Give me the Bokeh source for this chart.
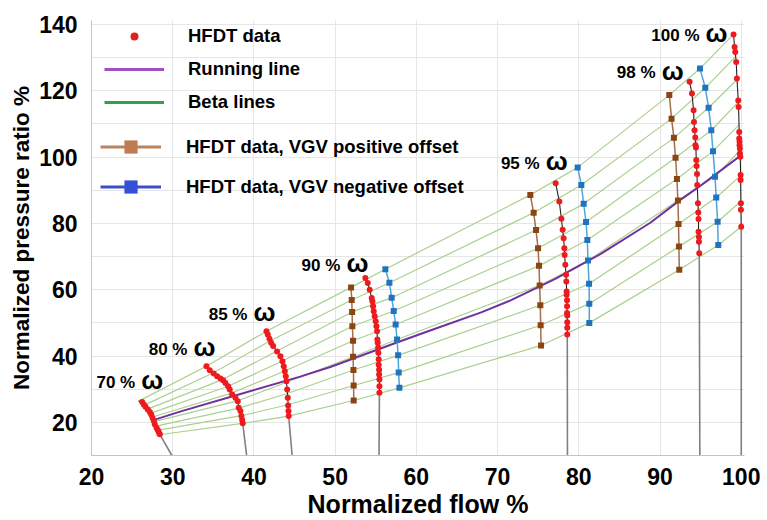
from bokeh.plotting import figure
from bokeh.models import (Range1d, SingleIntervalTicker, Legend, LegendItem,
                          ColumnDataSource, Title)
from bokeh.core.properties import value
from bokeh.embed import file_html
from bokeh.resources import INLINE

# ---------------- data ----------------
SPEED_LABELS = ["70 %", "80 %", "85 %", "90 %", "95 %", "98 %", "100 %"]

# HFDT data points along each speed line
R70_X = [26.24, 26.44, 26.65, 26.93, 27.18, 27.35, 27.51, 27.67, 27.79, 28.0, 28.16, 28.28, 28.41]
R70_Y = [26.1, 25.4, 24.7, 23.9, 23.1, 22.4, 21.4, 20.4, 19.4, 18.4, 17.7, 17.1, 16.4]
R80_X = [34.15, 34.56, 35.05, 35.47, 35.88, 36.21, 36.49, 36.82, 37.02, 37.32, 37.72, 38.01, 38.13, 38.34, 38.46, 38.55, 38.62]
R80_Y = [36.9, 35.7, 34.7, 33.9, 33.2, 32.7, 31.9, 30.9, 29.9, 28.4, 27.4, 26.4, 24.4, 23.4, 21.9, 20.7, 19.7]
R85_X = [41.54, 41.70, 41.91, 42.12, 42.36, 42.85, 43.26, 43.51, 43.67, 43.80, 43.92, 44.00, 44.09, 44.17, 44.21, 44.25, 44.28]
R85_Y = [47.5, 46.5, 45.2, 44.0, 43.0, 41.4, 39.9, 38.4, 36.9, 35.4, 33.9, 32.4, 29.9, 27.4, 25.1, 23.4, 21.9]
R90_X = [53.72, 54.01, 54.25, 54.50, 54.58, 54.67, 54.75, 54.87, 54.99, 55.08, 55.16, 55.20, 55.24, 55.29, 55.32, 55.36, 55.36, 55.41, 55.41, 55.45, 55.45, 55.45]
R90_Y = [63.5, 62.0, 60.0, 57.5, 56.5, 55.0, 53.5, 52.0, 50.5, 49.0, 47.5, 45.0, 44.0, 42.5, 41.0, 39.0, 37.4, 35.9, 34.4, 32.9, 30.9, 28.9]
R95_X = [77.15, 77.60, 77.85, 78.01, 78.13, 78.22, 78.25, 78.34, 78.43, 78.46, 78.50, 78.50, 78.55, 78.55, 78.55, 78.58, 78.58, 78.58, 78.58]
R95_Y = [92.1, 86.6, 81.4, 78.1, 75.5, 72.5, 70.5, 67.5, 64.5, 62.5, 59.5, 58.5, 56.8, 55.0, 53.0, 52.2, 50.2, 48.5, 46.5]
R98_X = [93.64, 93.93, 94.13, 94.18, 94.25, 94.34, 94.37, 94.42, 94.46, 94.50, 94.55, 94.58, 94.67, 94.71, 94.74, 94.74, 94.79, 94.79, 94.83]
R98_Y = [122.7, 119.2, 114.1, 110.6, 108.1, 105.9, 103.6, 102.9, 99.1, 97.3, 94.9, 91.6, 86.1, 83.3, 81.3, 77.5, 75.9, 74.5, 71.0]
R100_X = [99.05, 99.18, 99.26, 99.38, 99.47, 99.63, 99.67, 99.75, 99.75, 99.79, 99.79, 99.83, 99.83, 99.88, 99.92, 99.92, 99.96, 99.96, 100.0]
R100_Y = [137.0, 133.2, 131.7, 128.7, 123.7, 117.1, 115.1, 107.6, 105.6, 104.6, 103.6, 102.6, 101.1, 100.1, 94.6, 93.1, 86.1, 84.1, 79.0]

# lower end of each speed line (where it meets the flow axis)
END_X = [29.9, 39.1, 44.7, 55.4, 78.6, 94.9, 100.0]
END_Y = [10, 10, 10, 10, 10, 10, 10]

# beta-line points on the 70, 80, 85 and 100 % speed lines (top -> bottom)
BETA70_X = [25.8, 26.5, 26.9, 27.3, 27.5, 27.7, 27.8, 27.9, 27.9]
BETA70_Y = [26.4, 25.2, 24.0, 22.8, 21.6, 20.2, 18.8, 17.5, 16.1]
BETA80_X = [34.15, 34.96, 36.12, 36.83, 37.24, 37.98, 38.15, 38.45, 38.62]
BETA80_Y = [36.9, 34.9, 32.9, 30.9, 28.8, 26.5, 24.3, 22.0, 19.7]
BETA85_X = [41.54, 42.02, 42.84, 43.5, 43.8, 44.02, 44.13, 44.21, 44.28]
BETA85_Y = [47.5, 44.6, 41.5, 38.5, 35.5, 32.1, 28.7, 25.3, 21.9]
BETA100_X = [99.05, 99.3, 99.48, 99.64, 99.73, 99.83, 99.92, 99.96, 100.0]
BETA100_Y = [137.0, 130.3, 123.4, 116.6, 109.7, 102.0, 94.4, 86.7, 79.0]

# HFDT data, VGV positive offset (brown)
POS90_X = [51.96, 52.04, 52.09, 52.12, 52.20, 52.20, 52.25, 52.28, 52.28]
POS90_Y = [60.7, 56.9, 53.3, 49.0, 44.6, 39.8, 35.8, 31.1, 26.6]
POS95_X = [74.03, 74.44, 74.73, 74.98, 75.10, 75.18, 75.26, 75.30, 75.35]
POS95_Y = [88.6, 83.2, 78.0, 72.5, 67.2, 61.3, 55.3, 49.3, 43.2]
POS98_X = [91.14, 91.42, 91.71, 91.91, 92.08, 92.20, 92.28, 92.33, 92.37]
POS98_Y = [118.7, 111.6, 105.8, 99.8, 93.4, 86.9, 79.8, 73.0, 66.0]

# HFDT data, VGV negative offset (blue)
NEG90_X = [56.18, 56.68, 56.96, 57.21, 57.45, 57.62, 57.75, 57.82, 57.91]
NEG90_Y = [66.2, 62.1, 57.6, 53.6, 49.5, 45.0, 40.2, 35.0, 30.4]
NEG95_X = [79.86, 80.31, 80.60, 80.89, 81.05, 81.13, 81.26, 81.29, 81.29]
NEG95_Y = [96.9, 91.6, 85.9, 80.4, 75.0, 68.8, 61.8, 55.8, 50.0]
NEG98_X = [94.92, 95.57, 95.98, 96.31, 96.52, 96.77, 96.92, 97.09, 97.17]
NEG98_Y = [126.7, 120.9, 114.9, 108.1, 101.8, 94.1, 87.8, 80.5, 73.5]

# running line
RUN_X = [27.9, 31.0, 37.7, 45.7, 49.4, 57.6, 61.7, 67.9, 71.6, 77.1, 82.7, 88.8, 92.5, 94.6, 100.0]
RUN_Y = [20.9, 23.3, 28.1, 33.8, 36.7, 44.1, 47.7, 53.1, 56.8, 63.3, 70.8, 80.2, 87.1, 90.7, 100.6]

X_TITLE = "Normalized flow %"
Y_TITLE = "Normalized pressure ratio %"

# ---------------- layout / style constants ----------------
FONT = "Liberation Sans"
LABEL_DX = [21, 9, 9, 3, 12, -6, -6]       # px offset of the label's right edge
LABEL_DY = [-20, -17, -17, -13, -20, -9, 1]  # px offset of the label's centre

RED = "#ee1a1e"
GREEN_LINE = "#a9d18e"
PURPLE = "#7030a0"
BROWN_SQ = "#8b4513"
BROWN_LN = "#a0704a"
BLUE_SQ = "#1f74bd"
BLUE_LN = "#4ea5dc"

p = figure(width=767, height=520, output_backend="svg", toolbar_location=None,
           x_range=Range1d(20, 100.4), y_range=Range1d(10, 141.2),
           min_border_left=91, min_border_right=23, min_border_top=20,
           min_border_bottom=64)
p.outline_line_color = None
p.background_fill_color = "white"
p.border_fill_color = "white"

# axes & grid
p.xaxis.ticker = SingleIntervalTicker(interval=10, num_minor_ticks=0)
p.yaxis.ticker = SingleIntervalTicker(interval=20, num_minor_ticks=2)
for ax in (p.xaxis[0], p.yaxis[0]):
    ax.major_tick_line_color = None
    ax.minor_tick_line_color = None
    ax.axis_line_color = "#c4c4c4"
    ax.major_label_text_font = FONT
    ax.major_label_text_font_style = "bold"
    ax.major_label_text_font_size = "23px"
    ax.major_label_text_color = "black"
p.xaxis.major_label_standoff = 6
p.yaxis.major_label_standoff = 8
p.xaxis.axis_label = X_TITLE
p.xaxis.axis_label_standoff = 2
p.xaxis.axis_label_text_font = FONT
p.xaxis.axis_label_text_font_style = "bold"
p.xaxis.axis_label_text_font_size = "25px"
p.xaxis.axis_label_text_color = "black"
p.xgrid.grid_line_color = "#e6e6e6"
p.ygrid.grid_line_color = "#e6e6e6"
p.ygrid.minor_grid_line_color = "#e6e6e6"

# y-axis title as a side title
p.add_layout(Title(text=Y_TITLE, align="center", offset=0, standoff=5,
                   text_font=FONT, text_font_style="bold", text_font_size="22.5px",
                   text_color="black"), "left")

# beta lines
beta_xs, beta_ys = [], []
for i in range(9):
    beta_xs.append([BETA70_X[i], BETA80_X[i], BETA85_X[i], POS90_X[i], NEG90_X[i],
                    POS95_X[i], NEG95_X[i], POS98_X[i], NEG98_X[i], BETA100_X[i]])
    beta_ys.append([BETA70_Y[i], BETA80_Y[i], BETA85_Y[i], POS90_Y[i], NEG90_Y[i],
                    POS95_Y[i], NEG95_Y[i], POS98_Y[i], NEG98_Y[i], BETA100_Y[i]])
p.multi_line(xs=beta_xs, ys=beta_ys, line_color=GREEN_LINE, line_width=1.2)

# speed lines
speeds = [(R70_X, R70_Y), (R80_X, R80_Y), (R85_X, R85_Y), (R90_X, R90_Y),
          (R95_X, R95_Y), (R98_X, R98_Y), (R100_X, R100_Y)]
for k, (sx, sy) in enumerate(speeds):
    lx, ly = list(sx), list(sy)
    if k == 0:
        lx = [BETA70_X[0]] + lx
        ly = [BETA70_Y[0]] + ly
    p.line(lx, ly, line_color="#222222", line_width=1.1)
    p.line([sx[-1], END_X[k]], [sy[-1], END_Y[k]], line_color="#808080", line_width=1.6)

# running line
p.line(RUN_X, RUN_Y, line_color=PURPLE, line_width=2)

# VGV offsets
for xs_, ys_ in ((POS90_X, POS90_Y), (POS95_X, POS95_Y), (POS98_X, POS98_Y)):
    p.line(xs_, ys_, line_color=BROWN_LN, line_width=1.5)
    p.scatter(xs_, ys_, marker="square", size=6, fill_color=BROWN_SQ, line_color=None)
for xs_, ys_ in ((NEG90_X, NEG90_Y), (NEG95_X, NEG95_Y), (NEG98_X, NEG98_Y)):
    p.line(xs_, ys_, line_color=BLUE_LN, line_width=1.5)
    p.scatter(xs_, ys_, marker="square", size=6, fill_color=BLUE_SQ, line_color=None)

# HFDT red dots
all_rx = sum([list(s[0]) for s in speeds], [])
all_ry = sum([list(s[1]) for s in speeds], [])
p.scatter(all_rx, all_ry, marker="circle", size=6, fill_color=RED, line_color=None)

# speed labels
lab = ColumnDataSource(dict(
    x=[s[0][0] for s in speeds], y=[s[1][0] for s in speeds],
    num=SPEED_LABELS, w=["ω"] * 7,
    dx=LABEL_DX, dy=[d - 2 for d in LABEL_DY],
    dxn=[d - 28 for d in LABEL_DX], dyn=LABEL_DY))
p.text(x="x", y="y", text="w", x_offset="dx", y_offset="dy", source=lab,
       text_align="right", text_baseline="middle", text_font=value(FONT),
       text_font_style="bold", text_font_size="26px", text_color="black")
p.text(x="x", y="y", text="num", x_offset="dxn", y_offset="dyn", source=lab,
       text_align="right", text_baseline="middle", text_font=value(FONT),
       text_font_style="bold", text_font_size="17px", text_color="black")

# legend-only renderers (a single NaN point, so nothing shows in the plot)
NAN = float("nan")
def hidden():
    return ColumnDataSource(dict(x=[NAN], y=[NAN]))
lg_dot = p.scatter("x", "y", source=hidden(), marker="circle", size=9,
                   fill_color="#e3201c", line_color=None)
lg_run = p.line("x", "y", source=hidden(), line_color="#a24fc2", line_width=3)
lg_beta = p.line("x", "y", source=hidden(), line_color="#2ea24c", line_width=3)
lg_pos_l = p.line("x", "y", source=hidden(), line_color="#b8845c", line_width=3)
lg_pos_s = p.scatter("x", "y", source=hidden(), marker="square", size=13,
                     fill_color="#bf7c52", line_color=None)
lg_neg_l = p.line("x", "y", source=hidden(), line_color="#3d4fc4", line_width=3)
lg_neg_s = p.scatter("x", "y", source=hidden(), marker="square", size=13,
                     fill_color="#3350d9", line_color=None)

def style_legend(lg):
    lg.border_line_color = None
    lg.background_fill_alpha = 0
    lg.label_text_font = FONT
    lg.label_text_font_style = "bold"
    lg.label_text_font_size = "18.5px"
    lg.label_text_color = "black"
    lg.padding = 0
    lg.margin = 0

leg1 = Legend(items=[LegendItem(label="HFDT data", renderers=[lg_dot]),
                     LegendItem(label="Running line", renderers=[lg_run]),
                     LegendItem(label="Beta lines", renderers=[lg_beta])],
              location=(13, 342), glyph_width=60, glyph_height=20,
              label_height=20, spacing=11, label_standoff=24)
leg2 = Legend(items=[LegendItem(label="HFDT data, VGV positive offset",
                                renderers=[lg_pos_l, lg_pos_s]),
                     LegendItem(label="HFDT data, VGV negative offset",
                                renderers=[lg_neg_l, lg_neg_s])],
              location=(9, 252), glyph_width=61, glyph_height=33,
              label_height=33, spacing=7, label_standoff=25)
style_legend(leg1)
style_legend(leg2)
p.add_layout(leg1)
p.add_layout(leg2)

open("out.html", "w").write(file_html(p, INLINE))
